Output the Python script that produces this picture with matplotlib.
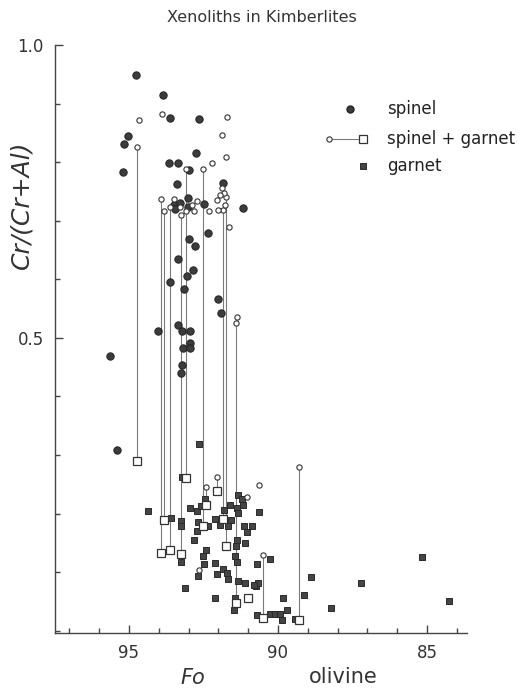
import matplotlib
matplotlib.use("Agg")
import matplotlib.pyplot as plt
from matplotlib.ticker import MultipleLocator, FixedLocator

# spinel peridotites: olivine Fo, spinel Cr/(Cr+Al)
spinel_fo = [94.77, 93.85, 93.61, 92.64, 95.03, 95.17, 92.75, 93.66, 93.35, 92.99,
             95.19, 93.40, 91.84, 93.49, 93.29, 93.03, 93.01, 92.47, 91.16, 92.34,
             92.99, 92.79, 93.35, 92.84, 93.04, 93.62, 93.15, 92.02, 91.92, 93.35,
             94.02, 93.23, 92.95, 92.95, 93.18, 92.95, 95.64, 93.22, 93.27, 95.41,
             93.45]
spinel_cr = [0.948, 0.915, 0.875, 0.874, 0.844, 0.831, 0.815, 0.798, 0.798, 0.786,
             0.783, 0.763, 0.764, 0.726, 0.731, 0.738, 0.724, 0.729, 0.722, 0.679,
             0.668, 0.657, 0.635, 0.615, 0.606, 0.596, 0.583, 0.566, 0.542, 0.522,
             0.511, 0.511, 0.511, 0.492, 0.482, 0.482, 0.469, 0.454, 0.440, 0.309,
             0.720]

# spinel + garnet peridotites joined by tie lines (spinel on top, garnet below)
pair_fo = [94.72, 93.93, 93.83, 93.62, 93.25, 93.10, 92.53, 92.42, 92.04, 91.85,
           91.75, 91.42, 90.49, 89.30]
pair_cr_sp = [0.826, 0.737, 0.716, 0.724, 0.710, 0.788, 0.789, 0.245, 0.263, 0.718,
              0.741, 0.526, 0.129, 0.279]
pair_cr_gt = [0.289, 0.133, 0.189, 0.138, 0.131, 0.261, 0.178, 0.215, 0.238, 0.191,
              0.145, 0.048, 0.022, 0.019]

# spinel + garnet symbols without a visible tie line
open_sp_fo = [94.66, 93.88, 91.72, 91.87, 91.75, 92.20, 91.87, 91.80, 91.95, 92.06,
              91.78, 92.00, 92.31, 91.65, 93.49, 93.28, 92.89, 92.72, 93.07, 92.81,
              91.36, 90.63, 91.04, 92.64]
open_sp_cr = [0.872, 0.882, 0.877, 0.846, 0.808, 0.799, 0.755, 0.748, 0.744, 0.735,
              0.726, 0.718, 0.716, 0.690, 0.737, 0.724, 0.726, 0.734, 0.716, 0.716,
              0.535, 0.249, 0.229, 0.103]
open_gt_fo = [90.99]
open_gt_cr = [0.056]

# garnet peridotites
garnet_fo = [94.35, 93.59, 93.23, 93.27, 93.27, 93.27, 93.11, 92.95, 92.72, 92.69,
             92.73, 92.81, 92.64, 92.67, 92.58, 92.45, 92.34, 92.42, 92.51, 92.48,
             92.11, 91.95, 92.11, 92.04, 91.84, 91.72, 91.69, 92.11, 91.80, 91.61,
             91.69, 91.58, 91.39, 91.33, 91.22, 91.18, 91.35, 91.14, 90.88, 91.05,
             91.39, 91.41, 91.11, 91.44, 91.39, 91.33, 91.11, 90.71, 90.74, 90.66,
             90.81, 90.27, 90.63, 89.82, 89.69, 89.88, 90.69, 90.27, 90.10, 89.93,
             91.44, 91.47, 89.42, 88.89, 89.12, 88.23, 87.21, 85.18, 84.25]
garnet_cr = [0.205, 0.192, 0.262, 0.187, 0.178, 0.118, 0.072, 0.209, 0.204, 0.185,
             0.171, 0.155, 0.318, 0.093, 0.213, 0.224, 0.178, 0.138, 0.127, 0.114,
             0.191, 0.181, 0.116, 0.096, 0.105, 0.098, 0.088, 0.056, 0.206, 0.215,
             0.178, 0.189, 0.209, 0.232, 0.224, 0.215, 0.201, 0.178, 0.178, 0.169,
             0.155, 0.144, 0.150, 0.127, 0.118, 0.085, 0.082, 0.114, 0.076, 0.081,
             0.078, 0.123, 0.202, 0.056, 0.036, 0.019, 0.027, 0.029, 0.029, 0.029,
             0.056, 0.036, 0.020, 0.091, 0.061, 0.039, 0.081, 0.126, 0.050]

DARK = "#3c3c3c"
LINE = "#7a7a7a"
plt.rcParams["font.family"] = "DejaVu Sans"

W, H = 518, 689
fig = plt.figure(figsize=(W / 100, H / 100), dpi=100, facecolor="white")
# axes box in pixels: left 55, right 467, top 45, bottom 633
ax = fig.add_axes([55 / W, 1 - 633 / H, 412 / W, 588 / H])

ax.vlines(pair_fo, pair_cr_gt, pair_cr_sp, color=LINE, lw=0.8, zorder=1)
ax.plot(pair_fo, pair_cr_gt, ls="none", marker="s", ms=5.5, mfc="white", mec="#333333",
        mew=0.9, zorder=4)
ax.plot(open_gt_fo, open_gt_cr, ls="none", marker="s", ms=5.5, mfc="white", mec="#333333",
        mew=0.9, zorder=4)
ax.plot(garnet_fo, garnet_cr, ls="none", marker="s", ms=5, mfc="#454545", mec="#2a2a2a",
        mew=0.7, zorder=3)
ax.plot(spinel_fo, spinel_cr, ls="none", marker="o", ms=5.3, mfc=DARK, mec="#222222",
        mew=0.7, zorder=3)
ax.plot(pair_fo, pair_cr_sp, ls="none", marker="o", ms=3.8, mfc="white", mec="#333333",
        mew=0.8, zorder=5)
ax.plot(open_sp_fo, open_sp_cr, ls="none", marker="o", ms=3.8, mfc="white", mec="#333333",
        mew=0.8, zorder=5)

ax.set_xlim(97.48, 83.66)
ax.set_ylim(-0.004, 1.0)
for s in ("top", "right"):
    ax.spines[s].set_visible(False)
for s in ("left", "bottom"):
    ax.spines[s].set_color("#444444")
    ax.spines[s].set_linewidth(1.0)

ax.xaxis.set_major_locator(FixedLocator([95, 90, 85]))
ax.xaxis.set_minor_locator(MultipleLocator(1))
ax.yaxis.set_major_locator(FixedLocator([0.5, 1.0]))
ax.yaxis.set_minor_locator(MultipleLocator(0.1))
ax.set_yticklabels(["0.5", "1.0"])
ax.tick_params(which="major", direction="in", length=6, width=1.0, color="#444444",
               labelsize=12, labelcolor="#333333", pad=8)
ax.tick_params(which="minor", direction="in", length=3.5, width=1.0, color="#444444")

# legend drawn in axes-fraction coordinates
tr = ax.transAxes
ax.plot([0.716], [0.891], transform=tr, marker="o", ms=5, mfc=DARK, mec="#222222",
        clip_on=False)
ax.plot([0.666, 0.748], [0.840, 0.840], transform=tr, color=LINE, lw=0.8, clip_on=False)
ax.plot([0.666], [0.840], transform=tr, marker="o", ms=3.8, mfc="white", mec="#333333",
        mew=0.8, clip_on=False)
ax.plot([0.748], [0.840], transform=tr, marker="s", ms=5.5, mfc="white", mec="#333333",
        mew=0.9, clip_on=False)
ax.plot([0.748], [0.794], transform=tr, marker="s", ms=5, mfc="#454545", mec="#2a2a2a",
        mew=0.7, clip_on=False)
for y, txt in [(0.891, "spinel"), (0.840, "spinel + garnet"), (0.794, "garnet")]:
    ax.text(0.805, y, txt, transform=tr, fontsize=12, va="center", ha="left",
            color="#222222")

fig.text(262 / W, 1 - 18 / H, "Xenoliths in Kimberlites", fontsize=11.5, ha="center",
         va="center", color="#333333")
fig.text(21 / W, 1 - 205 / H, "Cr/(Cr+Al)", fontsize=18, style="italic", rotation=90,
         ha="center", va="center", color="#333333")
fig.text(193 / W, 1 - 678 / H, "Fo", fontsize=15, style="italic", ha="center",
         va="center", color="#333333")
fig.text(343 / W, 1 - 677 / H, "olivine", fontsize=15, ha="center", va="center",
         color="#333333")

fig.savefig("out.png", dpi=100, facecolor="white")
